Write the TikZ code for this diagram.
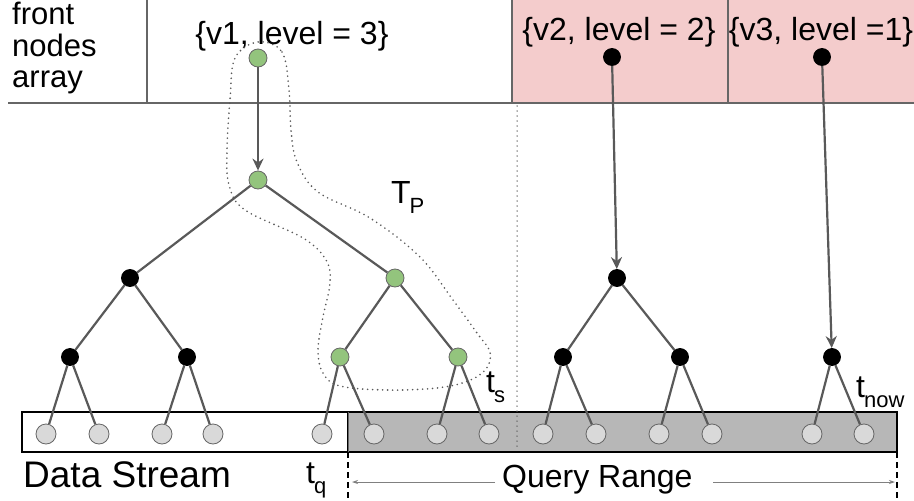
\documentclass[tikz,border=0pt]{standalone}
\usepackage{fontspec}
\setmainfont{Liberation Sans}
\usetikzlibrary{arrows.meta}

\definecolor{edgegray}{HTML}{595959}
\definecolor{rimgray}{HTML}{666666}
\definecolor{leafgray}{HTML}{D9D9D9}
\definecolor{bargray}{HTML}{B7B7B7}
\definecolor{pinkcell}{HTML}{F4CCCC}
\definecolor{greennode}{HTML}{93C47D}

\newcommand\lblfont{\fontsize{32}{36}\selectfont}
\newcommand\subtxt[1]{\raisebox{-10pt}{\fontsize{22}{22}\selectfont #1}}

\begin{document}
\begin{tikzpicture}[x=1pt,y=-1pt,
  tnode/.style={circle, draw=rimgray, line width=0.8pt, inner sep=0pt, minimum size=18pt},
  gnode/.style={tnode, fill=greennode},
  bnode/.style={tnode, fill=black, draw=black, minimum size=17pt},
  leaf/.style={tnode, fill=leafgray, minimum size=20pt},
  edge/.style={draw=edgegray, line width=2.2pt},
  ptr/.style={edge, -{Stealth[length=12pt,width=11pt]}},
  rangearrow/.style={draw=gray, line width=0.8pt, -{Stealth[length=6pt,width=4pt]}},
  dots/.style={draw=edgegray, line width=1.8pt, dash pattern=on 0pt off 5pt, line cap=round},
  txt/.style={inner sep=0pt, anchor=base west, font=\lblfont}
]
\useasboundingbox (0,0) rectangle (914,501);

% front nodes array
\fill[pinkcell] (512,0) rectangle (916,102);
\draw[rimgray, line width=1.2pt] (512,0) -- (512,102) (728,0) -- (728,102);
\draw[rimgray, line width=1.2pt] (8,103) -- (916,103);
\draw[rimgray, line width=1.2pt] (147,0) -- (147,103);
\node[txt, font=\fontsize{31}{34}\selectfont] (lf1) at (12,24) {front};
\node[txt, font=\fontsize{31}{34}\selectfont] (lf2) at (12,56) {nodes};
\node[txt, font=\fontsize{31}{34}\selectfont] (lf3) at (12,87) {array};
\node[txt, anchor=base] (c1) at (292,44) {\{v1, level = 3\}};
\node[txt, anchor=base] (c2) at (619,40) {\{v2, level = 2\}};
\node[txt, anchor=base] (c3) at (821,40) {\{v3, level =1\}};

% data stream bar
\draw[black, line width=1.4pt, fill=white] (22,412) rectangle (348,452);
\fill[bargray] (348,412) rectangle (897,452);
\draw[black, line width=1.4pt] (348,412) -- (897,412) -- (897,452) -- (348,452);
\draw[rimgray, line width=0.8pt] (348,412) -- (348,452);

% separation between the two trees
\draw[dots, line width=1.5pt] (517,106) -- (517,450);

% path of the partial tree
\draw[dots]
  plot[smooth cycle, tension=0.6] coordinates {
    (258,42) (282,52) (289,90) (291,130) (297,162) (318,192) (370,218)
    (420,257) (453,300) (477,333) (490,352) (486,369) (468,381) (437,388)
    (387,390) (340,386) (323,373) (318,350) (323,317) (330,283) (326,260)
    (303,238) (245,210) (229,185) (227,150) (230,100) (235,58)};

% left tree
\node[gnode] (v1) at (258,58) {};
\node[gnode] (r) at (258,180) {};
\node[bnode] (a) at (130,278) {};
\node[gnode] (b) at (395,278) {};
\node[bnode] (a1) at (70,357) {};
\node[bnode] (a2) at (187,357) {};
\node[gnode] (b1) at (340,357) {};
\node[gnode] (b2) at (458,357) {};
\node[leaf] (l1) at (46,434) {};
\node[leaf] (l2) at (99,434) {};
\node[leaf] (l3) at (162,434) {};
\node[leaf] (l4) at (213,434) {};
\node[leaf] (l5) at (322,434) {};
\node[leaf] (l6) at (374,434) {};
\node[leaf] (l7) at (437,434) {};
\node[leaf] (l8) at (489,434) {};

% right trees
\node[bnode] (v2) at (612,57) {};
\node[bnode] (c) at (617,278) {};
\node[bnode] (c1n) at (563,357) {};
\node[bnode] (c2n) at (680,357) {};
\node[leaf] (m1) at (543,434) {};
\node[leaf] (m2) at (596,434) {};
\node[leaf] (m3) at (659,434) {};
\node[leaf] (m4) at (712,434) {};
\node[bnode] (v3) at (822,57) {};
\node[bnode] (d) at (832,357) {};
\node[leaf] (n1) at (812,434) {};
\node[leaf] (n2) at (864,434) {};

\draw[edge] (r) -- (a) (r) -- (b)
  (a) -- (a1) (a) -- (a2) (b) -- (b1) (b) -- (b2)
  (a1) -- (l1) (a1) -- (l2) (a2) -- (l3) (a2) -- (l4)
  (b1) -- (l5) (b1) -- (l6) (b2) -- (l7) (b2) -- (l8)
  (c) -- (c1n) (c) -- (c2n)
  (c1n) -- (m1) (c1n) -- (m2) (c2n) -- (m3) (c2n) -- (m4)
  (d) -- (n1) (d) -- (n2);
\draw[ptr] (v1) -- (r);
\draw[ptr] (v2) -- (c);
\draw[ptr] (v3) -- (d);

% labels
\node[txt] (tp) at (391,203) {T\kern-1pt\subtxt{P}};
\node[txt] (ts) at (486,392) {t\kern-1pt\subtxt{s}};
\node[txt] (tn) at (856,397) {t\kern-1pt\subtxt{now}};
\node[txt] (tq) at (306,483) {t\kern-1pt\subtxt{q}};
\node[txt, font=\fontsize{37}{40}\selectfont] (ds) at (23,487) {Data Stream};
\node[txt] (qr) at (502,487) {Query Range};

% query range
\coordinate (qs) at (348,452);
\coordinate (qe) at (897,452);
\coordinate (qsb) at (348,501);
\coordinate (qeb) at (897,501);
\draw[black, line width=1.4pt, dash pattern=on 6pt off 4pt] (qs) -- (qsb);
\draw[black, line width=1.4pt, dash pattern=on 6pt off 4pt] (qe) -- (qeb);
\coordinate (qa) at (352,482);
\coordinate (qb) at (495,482);
\coordinate (qc) at (713,482);
\coordinate (qd) at (895,482);
\draw[rangearrow] (qb) -- (qa);
\draw[rangearrow] (qc) -- (qd);
\end{tikzpicture}
\end{document}
